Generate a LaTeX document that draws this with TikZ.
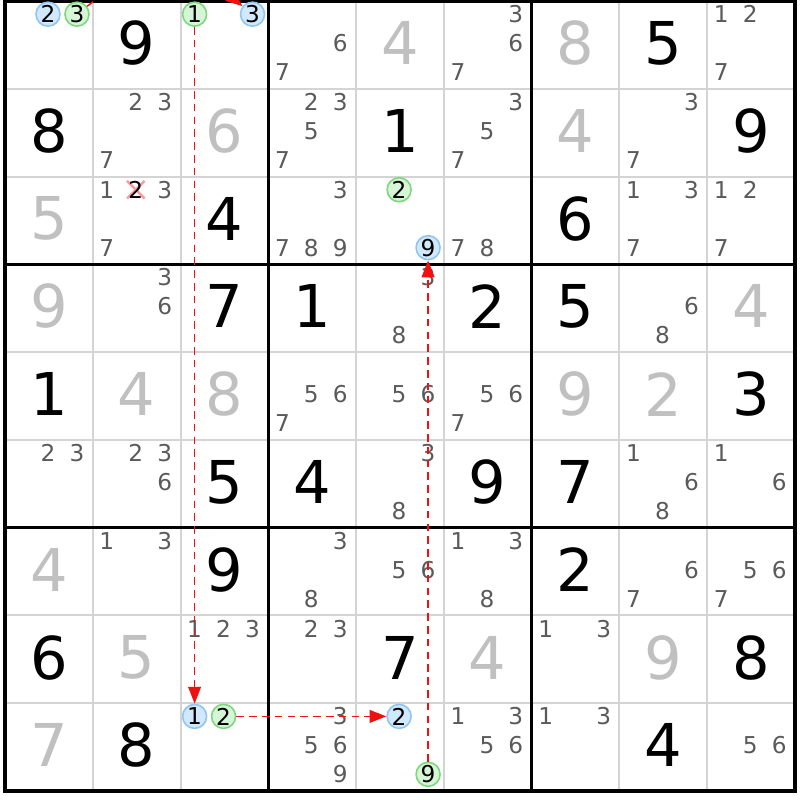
\documentclass[tikz,border=0pt]{standalone}
\usepackage{fontspec}
\setmainfont{DejaVu Sans}
\usetikzlibrary{arrows.meta}
\definecolor{pencil}{HTML}{5A5A5A}
\definecolor{solvedgray}{HTML}{C0C0C0}
\definecolor{thinline}{HTML}{D4D4D4}
\definecolor{blueedge}{HTML}{8EC5F5}
\definecolor{bluefill}{HTML}{D2E8FC}
\definecolor{greenedge}{HTML}{7DD87D}
\definecolor{greenfill}{HTML}{D6F5D6}
\definecolor{linkred}{HTML}{F01010}
\tikzset{
	given/.style={font=\fontsize{42}{42}\selectfont,inner sep=0pt},
	solved/.style={given,text=solvedgray},
	cand/.style={font=\fontsize{16.5}{16.5}\selectfont,text=pencil,inner sep=0pt},
	bluecand/.style={cand,text=black,circle,draw=blueedge,fill=bluefill,line width=0.4mm,minimum size=6mm},
	greencand/.style={bluecand,draw=greenedge,fill=greenfill},
	link/.style={draw=linkred,line width=0.35mm,dash pattern=on 1.9mm off 1.3mm,-{Triangle[length=4.2mm,width=3.2mm,fill=linkred]}}
}
\newcommand{\pencilmarks}[3]{%
	\foreach \d in {#3}{%
		\pgfmathsetmacro\px{#2-0.84+0.33*mod(\d-1,3)}%
		\pgfmathsetmacro\py{#1-0.85+0.33*int((\d-1)/3)}%
		\node[cand] (r#1c#2n\d) at (\px,\py) {\d};}}
\newcommand{\hlcand}[4]{% style, row, col, digit
	\pgfmathsetmacro\px{#3-0.84+0.33*mod(#4-1,3)}%
	\pgfmathsetmacro\py{#2-0.85+0.33*int((#4-1)/3)}%
	\node[#1] (r#2c#3n#4) at (\px,\py) {#4};}

\begin{document}
\begin{tikzpicture}[x=2.1945cm,y=-2.1945cm]
	\useasboundingbox (-0.057,-0.0114) rectangle (9.057,9.1024);
	\fill[white] (-0.057,-0.0114) rectangle (9.057,9.1024);

	% cell lines
	\foreach \i in {1,2,4,5,7,8}{
		\draw[thinline,line width=0.5mm] (\i,0) -- (\i,9);
		\draw[thinline,line width=0.5mm] (0,\i) -- (9,\i);}
	% box lines
	\foreach \i in {3,6}{
		\draw[line width=0.8mm] (\i,0) -- (\i,9);
		\draw[line width=0.8mm] (0,\i) -- (9,\i);}
	\draw[line width=0.8mm] (0,0) rectangle (9,9);

	% givens and solved cells
	\foreach \r/\c/\v in {1/2/9, 1/8/5, 2/1/8, 2/5/1, 2/9/9, 3/3/4, 3/7/6, 4/3/7, 4/4/1, 4/6/2, 4/7/5, 5/1/1, 5/9/3, 6/3/5, 6/4/4, 6/6/9, 6/7/7, 7/3/9, 7/7/2, 8/1/6, 8/5/7, 8/9/8, 9/2/8, 9/8/4}
		\node[given] (g\r\c) at (\c-0.5,\r-0.52) {\v};
	\foreach \r/\c/\v in {1/5/4, 1/7/8, 2/3/6, 2/7/4, 3/1/5, 4/1/9, 4/9/4, 5/2/4, 5/3/8, 5/7/9, 5/8/2, 7/1/4, 8/2/5, 8/6/4, 8/8/9, 9/1/7}
		\node[solved] (s\r\c) at (\c-0.5,\r-0.52) {\v};

	% pencil marks
	\pencilmarks{1}{4}{6,7}
	\pencilmarks{1}{6}{3,6,7}
	\pencilmarks{1}{9}{1,2,7}
	\pencilmarks{2}{2}{2,3,7}
	\pencilmarks{2}{4}{2,3,5,7}
	\pencilmarks{2}{6}{3,5,7}
	\pencilmarks{2}{8}{3,7}
	\pencilmarks{3}{2}{1,3,7}
	\pencilmarks{3}{4}{3,7,8,9}
	\pencilmarks{3}{6}{7,8}
	\pencilmarks{3}{8}{1,3,7}
	\pencilmarks{3}{9}{1,2,7}
	\pencilmarks{4}{2}{3,6}
	\pencilmarks{4}{5}{3,8}
	\pencilmarks{4}{8}{6,8}
	\pencilmarks{5}{4}{5,6,7}
	\pencilmarks{5}{5}{5,6}
	\pencilmarks{5}{6}{5,6,7}
	\pencilmarks{6}{1}{2,3}
	\pencilmarks{6}{2}{2,3,6}
	\pencilmarks{6}{5}{3,8}
	\pencilmarks{6}{8}{1,6,8}
	\pencilmarks{6}{9}{1,6}
	\pencilmarks{7}{2}{1,3}
	\pencilmarks{7}{4}{3,8}
	\pencilmarks{7}{5}{5,6}
	\pencilmarks{7}{6}{1,3,8}
	\pencilmarks{7}{8}{6,7}
	\pencilmarks{7}{9}{5,6,7}
	\pencilmarks{8}{3}{1,2,3}
	\pencilmarks{8}{4}{2,3}
	\pencilmarks{8}{7}{1,3}
	\pencilmarks{9}{4}{3,5,6,9}
	\pencilmarks{9}{6}{1,3,5,6}
	\pencilmarks{9}{7}{1,3}
	\pencilmarks{9}{9}{5,6}

	% eliminated candidate
	\draw[red!40,line width=0.6mm] (1.39,2.05) -- (1.59,2.25) (1.39,2.25) -- (1.59,2.05);
	\node[cand,text=black] (r3c2n2) at (1.49,2.15) {2};

	% chain
	\hlcand{bluecand}{1}{1}{2}
	\hlcand{greencand}{1}{1}{3}
	\hlcand{greencand}{1}{3}{1}
	\hlcand{bluecand}{1}{3}{3}
	\hlcand{greencand}{3}{5}{2}
	\hlcand{bluecand}{3}{5}{9}
	\hlcand{bluecand}{9}{3}{1}
	\hlcand{greencand}{9}{3}{2}
	\hlcand{bluecand}{9}{5}{2}
	\hlcand{greencand}{9}{5}{9}

	\draw[link] (r1c1n3) .. controls (1.63,-0.48) and (2.03,-0.48) .. (r1c3n3);
	\draw[link] (r1c3n1) -- (r9c3n1);
	\draw[link] (r9c3n2) -- (r9c5n2);
	\draw[link] (r9c5n9) -- (r3c5n9);
\end{tikzpicture}
\end{document}
